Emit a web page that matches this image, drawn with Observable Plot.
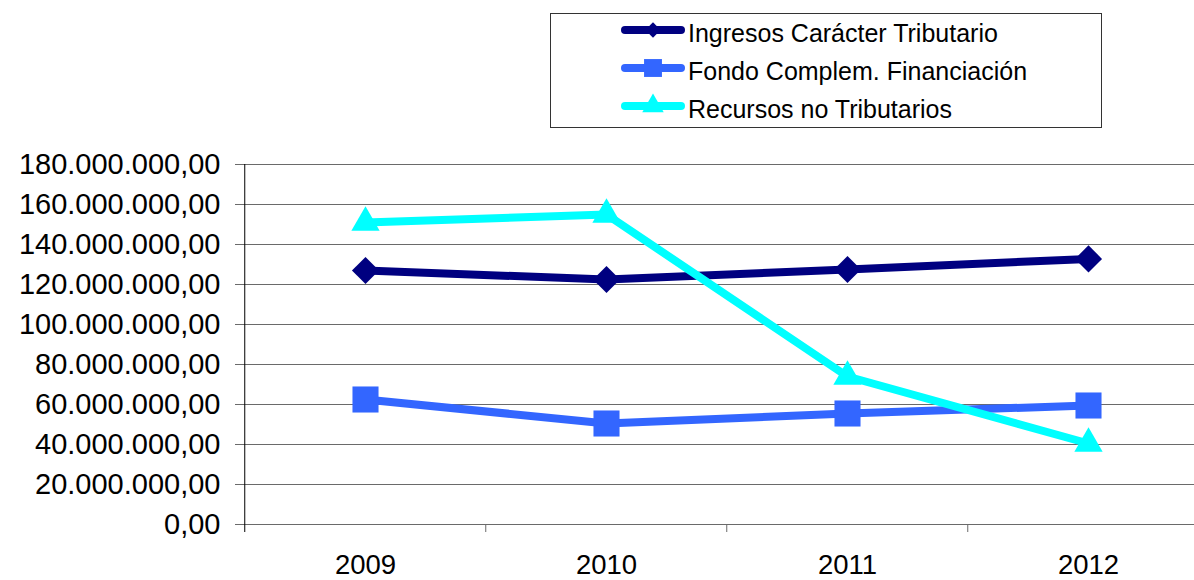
<!DOCTYPE html>
<html><head><meta charset="utf-8">
<script src="https://cdn.jsdelivr.net/npm/d3@7"></script>
<script src="https://cdn.jsdelivr.net/npm/@observablehq/plot@0.6"></script>
<style>
html,body{margin:0;padding:0;overflow:hidden;background:#fff;width:1194px;height:580px}
#wrap{position:relative;width:1194px;height:580px;overflow:hidden;font-family:"Liberation Sans",Arial,sans-serif}
#legend{position:absolute;left:550px;top:13px}
#chart{position:absolute;left:0;top:0;width:1209px}
#chart svg{max-width:none !important}
</style></head><body><div id="wrap"><div id="chart"></div><svg id="legend"></svg></div>
<script>
const years = ["2009","2010","2011","2012"];
const seriesNames = ["Ingresos Carácter Tributario","Fondo Complem. Financiación","Recursos no Tributarios"];
const ingresos = [127000000,122500000,127500000,132800000];
const fondo = [62500000,50500000,55500000,59500000];
const recursos = [151000000,155000000,74000000,40500000];
const yTicks = [0,20000000,40000000,60000000,80000000,100000000,120000000,140000000,160000000,180000000];
const colors = ["#000080","#3366FF","#00FFFF"];
const symbols = ["diamond2","square","triangle"];
const markerR = [12.2,14.7,10.5];

const values = [ingresos, fondo, recursos];
const data = seriesNames.flatMap((s,i)=>years.map((y,j)=>({series:s, year:y, value:values[i][j]})));

const loc = d3.formatLocale({decimal:",", thousands:".", grouping:[3], currency:["",""]});
const fmt = loc.format(",.2f");

const W = 1209, mL = 243, step = (W - mL)/years.length;

const marks = [
  Plot.ruleY(yTicks, {stroke:"#6a6a6a", strokeWidth:1}),
  Plot.ruleX([years[0]], {dx:-step/2, y1:-4000000, y2:180000000, stroke:"#000", strokeWidth:1}),
  Plot.ruleX(years.slice(1), {dx:-step/2, y1:0, y2:-4000000, stroke:"#6a6a6a", strokeWidth:1}),
  Plot.axisY(yTicks, {tickSize:8, tickPadding:15, tickFormat:fmt, fontSize:29, stroke:"#6a6a6a", color:"#000"}),
  Plot.axisX({tickSize:0, tickPadding:30, fontSize:27.5})
];
seriesNames.forEach((s,i)=>{
  const d = data.filter(r=>r.series===s);
  marks.push(Plot.line(d, {x:"year", y:"value", stroke:colors[i], strokeWidth:8, strokeLinejoin:"round"}));
  marks.push(Plot.dot(d, {x:"year", y:"value", fill:colors[i], stroke:"none", symbol:symbols[i], r:markerR[i]}));
});

const chart = Plot.plot({
  width: W, height: 580,
  marginTop:164, marginBottom:56, marginLeft:mL, marginRight:0,
  style:{fontFamily:"'Liberation Sans', Arial, sans-serif", color:"#000", background:"#fff", overflow:"visible", maxWidth:"none"},
  x:{type:"point", domain:years, padding:0.5, label:null},
  y:{domain:[0,180000000], label:null},
  marks
});
chart.style.maxWidth = "none";
chart.setAttribute("width", W);
document.getElementById("chart").appendChild(chart);

// legend
const lg = d3.select("#legend").attr("width",553).attr("height",116);
lg.append("rect").attr("x",0.5).attr("y",0.5).attr("width",551).attr("height",114).attr("fill","#fff").attr("stroke","#333");
const legSym = [d3.symbolDiamond2, d3.symbolSquare, d3.symbolTriangle];
const legSize = [150, 320, 200];
seriesNames.forEach((s,i)=>{
  const cy = 17 + i*38;
  const g = lg.append("g");
  g.append("line").attr("x1",75).attr("x2",131).attr("y1",cy).attr("y2",cy).attr("stroke",colors[i]).attr("stroke-width",8).attr("stroke-linecap","round");
  g.append("path").attr("d", d3.symbol(legSym[i], legSize[i])()).attr("transform",`translate(103,${cy})`).attr("fill",colors[i]);
  g.append("text").attr("x",138).attr("y",cy+12).attr("font-size",25).attr("font-family","'Liberation Sans', Arial, sans-serif").attr("fill","#000").text(s);
});
</script></body></html>
